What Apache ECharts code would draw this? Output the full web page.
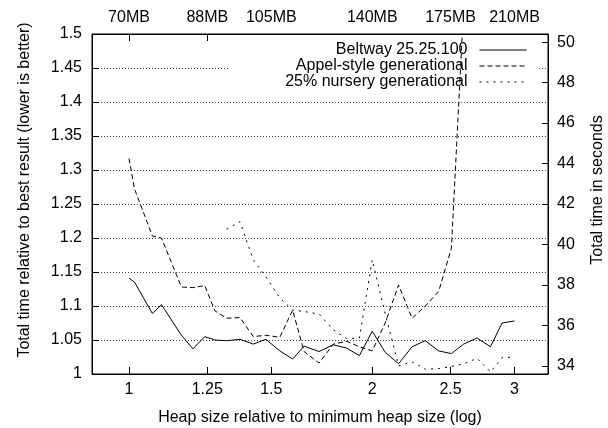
<!DOCTYPE html>
<html>
<head>
<meta charset="utf-8">
<style>
  html, body { margin: 0; padding: 0; background: #fff; }
  #chart { width: 608px; height: 428px; }
</style>
<script src="https://cdn.jsdelivr.net/npm/echarts@6/dist/echarts.min.js"></script>
</head>
<body>
<div id="chart"></div>
<script>
// heap size relative to the minimum heap size (x of every point)
const heapRatio = [1.000, 1.016, 1.069, 1.097, 1.161, 1.200, 1.241, 1.277, 1.321, 1.372,
  1.425, 1.477, 1.537, 1.594, 1.647, 1.719, 1.790, 1.860, 1.928, 2.000,
  2.075, 2.156, 2.240, 2.326, 2.416, 2.506, 2.595, 2.696, 2.801, 2.895, 2.999]

// total time relative to best result
const beltway = [1.141, 1.135, 1.089, 1.102, 1.057, 1.037, 1.055, 1.050, 1.049, 1.051,
  1.044, 1.051, 1.034, 1.022, 1.041, 1.033, 1.043, 1.038, 1.027, 1.063,
  1.032, 1.015, 1.040, 1.049, 1.034, 1.030, 1.044, 1.053, 1.040, 1.075, 1.078]
const appel = [1.317, 1.272, 1.203, 1.200, 1.128, 1.127, 1.130, 1.093, 1.082, 1.083,
  1.055, 1.057, 1.054, 1.094, 1.033, 1.016, 1.044, 1.048, 1.040, 1.034,
  1.075, 1.131, 1.082, 1.100, 1.121, 1.185, 1.540]
const nursery = [null, null, null, null, null, null, null, null, 1.213, 1.224,
  1.168, 1.143, 1.112, 1.094, 1.092, 1.088, 1.065, 1.052, 1.053, 1.168,
  1.089, 1.012, 1.018, 1.007, 1.008, 1.011, 1.015, 1.023, 1.003, 1.024, 1.025]

const seriesNames = ['Beltway 25.25.100', 'Appel-style generational', '25% nursery generational']

// tick labels
const xTicks = [1, 1.25, 1.5, 2, 2.5, 3]
const heapLabels = ['70MB', '88MB', '105MB', '140MB', '175MB', '210MB']
const secondTicks = [34, 36, 38, 40, 42, 44, 46, 48, 50]
// seconds of the best result (relative 1)
const bestSeconds = 33.6

const font = 'Liberation Sans, Arial, Helvetica, sans-serif'

// 把 x 与 y 配成点, 空值跳过
function toPoints(values) {
  const pts = []
  values.forEach((v, i) => {
    if (v !== null && v !== undefined) pts.push([heapRatio[i], v])
  })
  return pts
}

function nearestIndex(list, v) {
  let best = 0
  list.forEach((t, i) => {
    if (Math.abs(t - v) < Math.abs(list[best] - v)) best = i
  })
  return best
}

const chart = echarts.init(document.getElementById('chart'), null, { renderer: 'canvas' })

const labelStyle = { color: '#000', fontSize: 16, fontFamily: font }

function xAxisDef(position, formatter, extra) {
  return Object.assign({
    type: 'log',
    logBase: 10,
    position: position,
    min: 0.9,
    max: 3.3,
    axisLine: { show: true, lineStyle: { color: '#000', width: 1 } },
    axisTick: { show: true, inside: true, length: 7, customValues: xTicks, lineStyle: { color: '#000' } },
    axisLabel: Object.assign({ customValues: xTicks, formatter: formatter, margin: 8 }, labelStyle),
    splitLine: { show: false },
    minorTick: { show: false },
    minorSplitLine: { show: false }
  }, extra)
}

chart.setOption({
  animation: false,
  backgroundColor: '#fff',
  textStyle: { fontFamily: font },
  grid: {
    left: 92,
    right: 60,
    top: 34,
    bottom: 54,
    show: true,
    borderColor: '#000',
    borderWidth: 1,
    containLabel: false,
    outerBoundsMode: 'none'
  },
  legend: {
    data: seriesNames,
    orient: 'vertical',
    right: 71,
    top: 35,
    align: 'right',
    itemWidth: 47,
    itemHeight: 16,
    itemGap: 0,
    padding: [7, 10, 3, 56],
    backgroundColor: '#fff',
    selectedMode: false,
    z: 4,
    // 图例只画线, 不画圆点
    itemStyle: { opacity: 0 },
    lineStyle: { width: 1, color: '#000' },
    textStyle: Object.assign({ lineHeight: 16, padding: [0, 7, 0, 0] }, labelStyle)
  },
  xAxis: [
    xAxisDef('bottom', v => String(xTicks[nearestIndex(xTicks, v)]), {
      name: 'Heap size relative to minimum heap size (log)',
      nameLocation: 'middle',
      nameGap: 36,
      nameTextStyle: labelStyle
    }),
    xAxisDef('top', v => heapLabels[nearestIndex(xTicks, v)], {})
  ],
  yAxis: [
    {
      type: 'value',
      position: 'left',
      min: 1,
      max: 1.5,
      interval: 0.05,
      axisLine: { show: true, lineStyle: { color: '#000', width: 1 } },
      axisTick: { show: true, inside: true, length: 7, lineStyle: { color: '#000' } },
      axisLabel: Object.assign({ margin: 10 }, labelStyle),
      splitLine: { show: true, lineStyle: { color: '#444', width: 1, type: [1, 2] } },
      name: 'Total time relative to best result (lower is better)',
      nameLocation: 'middle',
      nameGap: 59,
      nameRotate: 90,
      nameTextStyle: Object.assign({ padding: [0, 0, 0, 28] }, labelStyle)
    },
    {
      type: 'value',
      position: 'right',
      min: bestSeconds * 1,
      max: bestSeconds * 1.5,
      axisLine: { show: true, lineStyle: { color: '#000', width: 1 } },
      axisTick: { show: true, inside: true, length: 6, customValues: secondTicks, lineStyle: { color: '#000' } },
      axisLabel: Object.assign({ margin: 9, customValues: secondTicks }, labelStyle),
      splitLine: { show: false },
      name: 'Total time in seconds',
      nameLocation: 'middle',
      nameGap: 42,
      nameRotate: 90,
      nameTextStyle: Object.assign({ padding: [0, 0, 0, 28] }, labelStyle)
    }
  ],
  series: [
    {
      name: seriesNames[0],
      type: 'line',
      data: toPoints(beltway),
      symbol: 'none',
      z: 6,
      lineStyle: { color: '#000', width: 1, type: 'solid' },
      itemStyle: { color: '#000' }
    },
    {
      name: seriesNames[1],
      type: 'line',
      data: toPoints(appel),
      symbol: 'none',
      z: 6,
      lineStyle: { color: '#000', width: 1, type: [5, 3] },
      itemStyle: { color: '#000' }
    },
    {
      name: seriesNames[2],
      type: 'line',
      data: toPoints(nursery),
      symbol: 'none',
      z: 6,
      lineStyle: { color: '#000', width: 1, type: [2, 5] },
      itemStyle: { color: '#000' }
    }
  ]
})
</script>
</body>
</html>
